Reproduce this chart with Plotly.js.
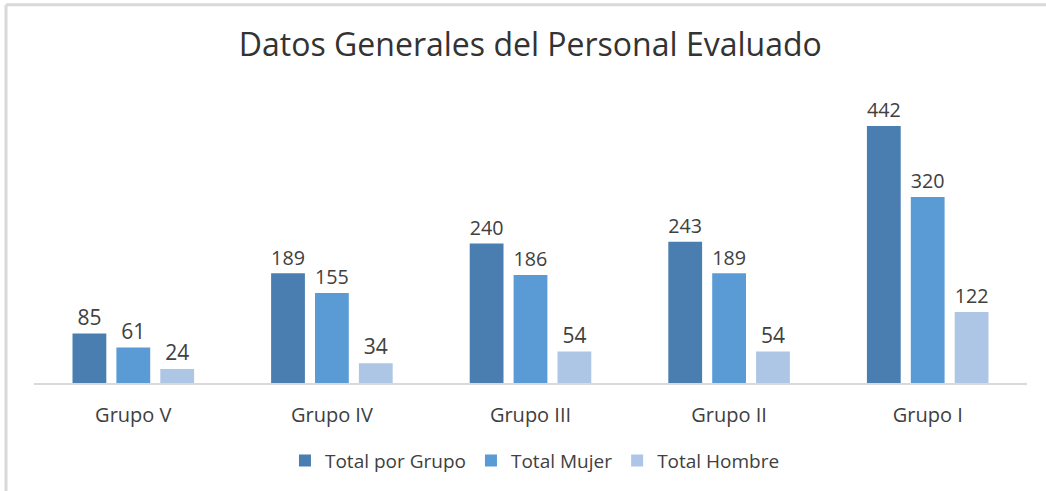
<!DOCTYPE html>
<html>
<head>
<meta charset="utf-8">
<script src="https://cdn.plot.ly/plotly-3.0.1.min.js"></script>
<style>html,body{margin:0;padding:0;background:#fff;}#chart{width:1046px;height:491px;}</style>
</head>
<body>
<div id="chart"></div>
<script>
const categories = ["Grupo V", "Grupo IV", "Grupo III", "Grupo II", "Grupo I"];
const totalGrupo = [85, 189, 240, 243, 442];
const totalMujer = [61, 155, 186, 189, 320];
const totalHombre = [24, 34, 54, 54, 122];
const seriesNames = ["Total por Grupo", "Total Mujer", "Total Hombre"];
const colors = ["#4a7eb0", "#5b9bd5", "#adc6e5"];

const font = "Open Sans, Noto Sans, sans-serif";
const txtColor = "#404040";

function mk(vals, i) {
  return {
    type: "bar", x: categories, y: vals, name: seriesNames[i],
    marker: {color: colors[i]},
    text: vals.map(String), textposition: "outside",
    textfont: {family: font, size: 21, color: txtColor},
    cliponaxis: false, hoverinfo: "none"
  };
}
const data = [mk(totalGrupo, 0), mk(totalMujer, 1), mk(totalHombre, 2)];

const layout = {
  width: 1046, height: 491,
  margin: {l: 34, r: 19, t: 104, b: 106},
  paper_bgcolor: "#fff", plot_bgcolor: "#fff",
  barmode: "group", bargap: 0.337, bargroupgap: 0.23,
  title: {text: "Datos Generales del Personal Evaluado",
    font: {family: font, size: 32, color: "#333333"},
    xref: "container", x: 0.507, yref: "container", y: 0.908, yanchor: "middle", xanchor: "center"},
  xaxis: {showline: true, linecolor: "#d9d9d9", linewidth: 2, ticks: "", ticklabelstandoff: 13,
    tickfont: {family: font, size: 20, color: txtColor}, fixedrange: true},
  yaxis: {range: [0, 480], showgrid: false, showline: false, zeroline: false, showticklabels: false, fixedrange: true},
  showlegend: true,
  legend: {orientation: "h", x: 0.5045, xanchor: "center", y: -0.278, yanchor: "middle",
    font: {family: font, size: 19, color: txtColor}, itemwidth: 30, traceorder: "normal"},
  shapes: [
    {type: "line", xref: "paper", yref: "paper", x0: -0.0282, x1: 1.2, y0: 1.356, y1: 1.356, line: {color: "#d9d9d9", width: 3}},
    {type: "line", xref: "paper", yref: "paper", x0: -0.0282, x1: -0.0282, y0: 1.356, y1: -0.5, line: {color: "#d9d9d9", width: 3}}
  ]
};
Plotly.newPlot("chart", data, layout, {displayModeBar: false, staticPlot: true});
</script>
</body>
</html>
